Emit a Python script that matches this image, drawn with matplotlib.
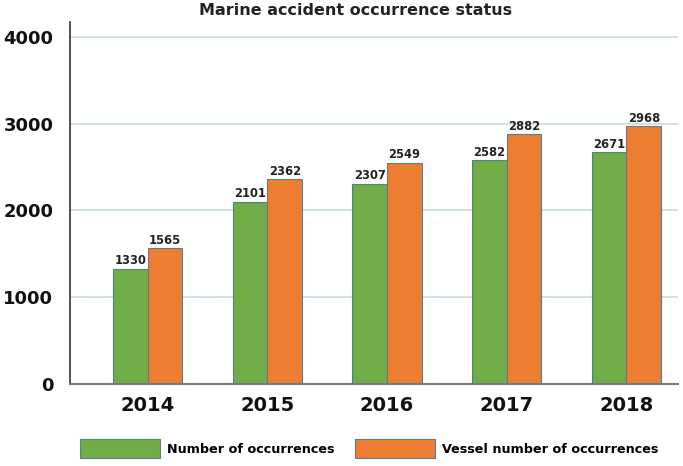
import numpy as np
import matplotlib
matplotlib.use("Agg")
import matplotlib.pyplot as plt

years = ["2014", "2015", "2016", "2017", "2018"]
occurrences = [1330, 2101, 2307, 2582, 2671]
vessel_occurrences = [1565, 2362, 2549, 2882, 2968]

GREEN = "#70AD47"
ORANGE = "#ED7D31"
EDGE = "#5a7f8c"

plt.rcParams["font.family"] = ["DejaVu Sans"]

fig = plt.figure(figsize=(6.83, 4.66), dpi=100)
ax = fig.add_axes([0.1025, 0.176, 0.89, 0.777])

x = np.arange(len(years))
w = 0.29
b1 = ax.bar(x - w / 2, occurrences, w, color=GREEN, edgecolor=EDGE, linewidth=0.8,
            label="Number of occurrences")
b2 = ax.bar(x + w / 2, vessel_occurrences, w, color=ORANGE, edgecolor=EDGE, linewidth=0.8,
            label="Vessel number of occurrences")
ax.bar_label(b1, padding=1, fontsize=8.3, fontweight="bold", color="#222222")
ax.bar_label(b2, padding=1, fontsize=8.3, fontweight="bold", color="#222222")

ax.set_xlim(-0.65, 4.43)
ax.set_ylim(0, 4173)
ax.set_yticks([0, 1000, 2000, 3000, 4000])
ax.set_xticks(x)
ax.set_xticklabels(years)
ax.tick_params(axis="y", length=0, pad=12, labelsize=13)
ax.tick_params(axis="x", length=0, pad=9, labelsize=14)
for lab in ax.get_xticklabels() + ax.get_yticklabels():
    lab.set_fontweight("bold")
    lab.set_color("#111111")

ax.set_axisbelow(True)
for yv in [1000, 2000, 3000, 4000]:
    ax.axhline(yv, color="#c8dde3", linewidth=1.2, zorder=0)

for side in ["top", "right"]:
    ax.spines[side].set_visible(False)
ax.spines["left"].set_color("#333333")
ax.spines["left"].set_linewidth(1.2)
ax.spines["bottom"].set_color("#777777")
ax.spines["bottom"].set_linewidth(1.5)

fig.text(0.52, 0.978, "Marine accident occurrence status", ha="center", va="center",
         fontsize=11.5, fontweight="bold", color="#222222")

fig.legend(handles=[b1, b2], loc="center", bbox_to_anchor=(0.541, 0.037), ncol=2,
           frameon=False, handlelength=6.2, handleheight=1.9, handletextpad=0.6,
           columnspacing=1.6, prop={"size": 9.2, "weight": "bold"})

fig.savefig("out.png", dpi=100)
